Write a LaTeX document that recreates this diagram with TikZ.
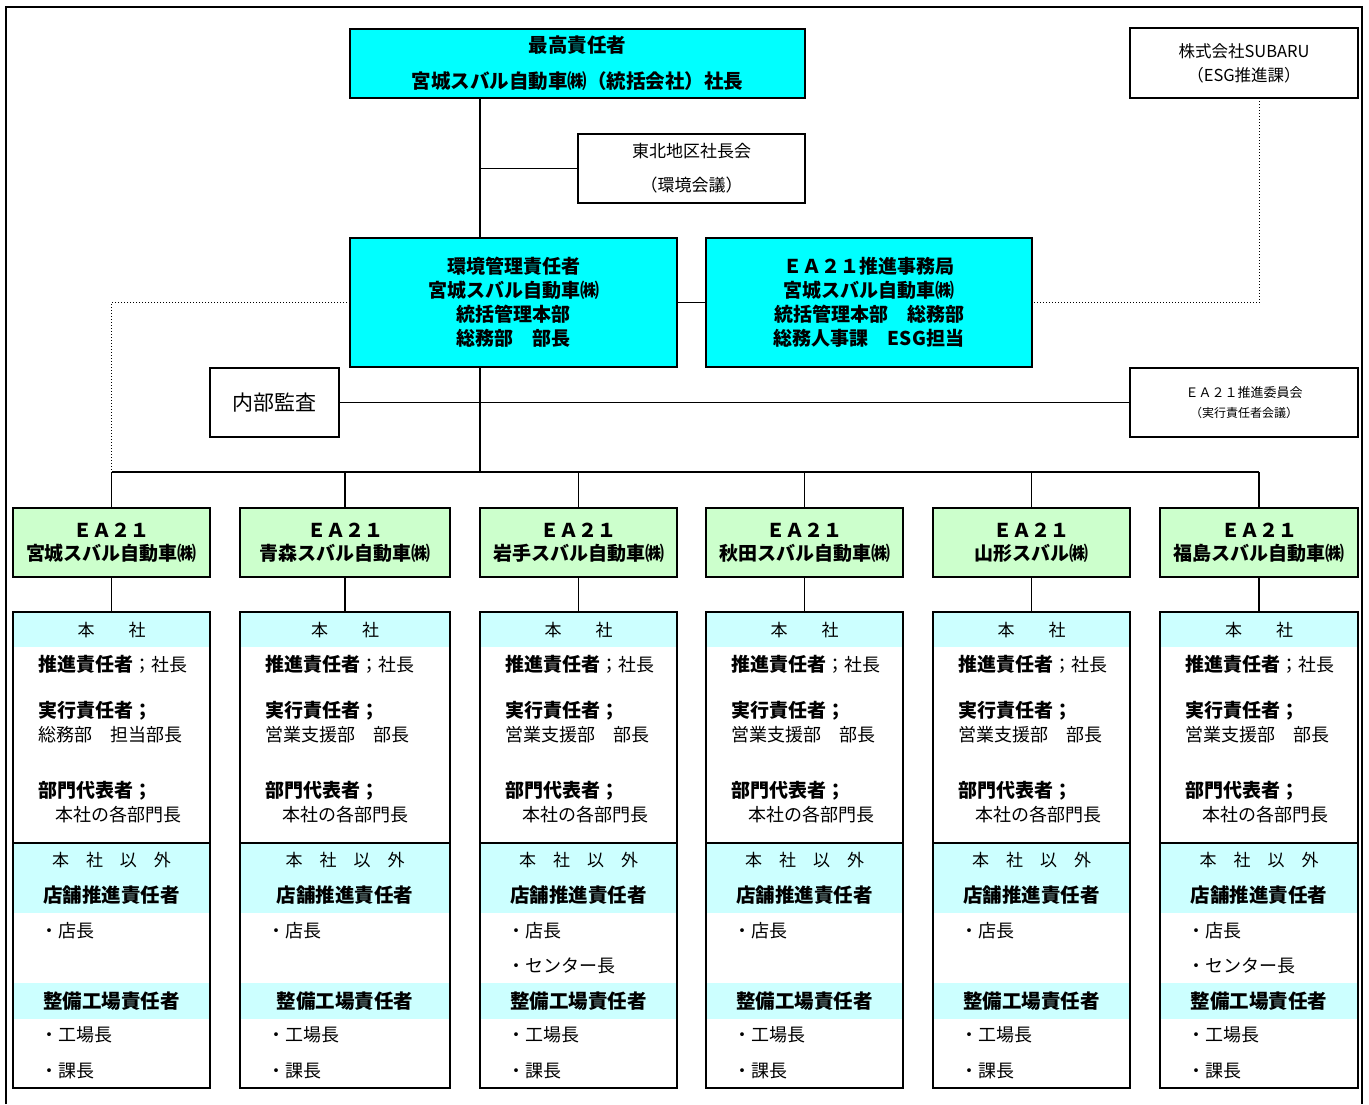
\documentclass[tikz,border=0pt]{standalone}
\usepackage{fontspec}
\setmainfont{Noto Sans CJK JP}
\definecolor{boxcyan}{HTML}{00FFFF}
\definecolor{boxgreen}{HTML}{CCFFCC}
\definecolor{bandcyan}{HTML}{CCFFFF}
\tikzset{
  box/.style={draw, line width=1.2pt, inner sep=0pt, outer sep=0pt, align=center},
  cyanbox/.style={box, fill=boxcyan},
  greenbox/.style={box, fill=boxgreen, minimum height=69pt, font=\bfseries\fontsize{19}{23}\selectfont},
  lowbox/.style={draw, line width=1.2pt, inner sep=0pt, outer sep=0pt, minimum height=476pt},
  band/.style={fill=bandcyan},
  txt/.style={inner sep=0pt, anchor=west, font=\fontsize{18}{20}\selectfont},
  txtb/.style={inner sep=0pt, anchor=west, font=\bfseries\fontsize{19}{20}\selectfont},
  ctrb/.style={inner sep=0pt, anchor=center, font=\bfseries\fontsize{19.5}{20}\selectfont},
  ctr/.style={inner sep=0pt, anchor=center, font=\fontsize{17}{20}\selectfont},
  link/.style={line width=1.2pt},
  trunkline/.style={line width=2pt},
  dotline/.style={line width=1pt, dotted}
}
\newcommand\eacol[6]{%
  \pgfmathsetmacro\colcx{(#1+#2)/2}%
  \pgfmathsetmacro\colw{#2-#1}%
  \node[greenbox, minimum width=\colw pt] (g#3) at (\colcx,542.5) {ＥＡ２１\\#4};
  \fill[band] (#1,612) rectangle (#2,647);
  \fill[band] (#1,843) rectangle (#2,913);
  \fill[band] (#1,983) rectangle (#2,1019);
  \draw[link] (#1,843) -- (#2,843);
  \node[lowbox, minimum width=\colw pt] (b#3) at (\colcx,850) {};
  \node[ctr] (h#3) at (\colcx,630) {本　　社};
  \node[txt] (p#3) at (#1+25,664) {{\bfseries\fontsize{19}{20}\selectfont 推進責任者}；社長};
  \node[txtb] (e#3) at (#1+25,711) {実行責任者；};
  \node[txt] (x#3) at (#1+25,735) {#5};
  \node[txtb] (r#3) at (#1+25,791) {部門代表者；};
  \node[txt] (s#3) at (#1+42,815) {本社の各部門長};
  \node[ctr] (o#3) at (\colcx,860) {本　社　以　外};
  \node[ctrb] (m#3) at (\colcx,895) {店舗推進責任者};
  \node[txt] (k#3) at (#1+27,931) {・店長};
  \ifnum#6=1 \node[txt] (c#3) at (#1+27,966) {・センター長};\fi
  \node[ctrb] (f#3) at (\colcx,1001) {整備工場責任者};
  \node[txt] (j#3) at (#1+27,1035) {・工場長};
  \node[txt] (q#3) at (#1+27,1071) {・課長};
  \draw[link] (g#3.south) -- (b#3.north);
  \draw[link] (g#3.north |- bus) -- (g#3.north);
}
\begin{document}
\begin{tikzpicture}[x=1pt,y=-1pt]
\useasboundingbox (0,0) rectangle (1369,1104);
\draw[line width=1.2pt] (6,1104) -- (6,7) -- (1362,7) -- (1362,1104);
\coordinate (trunk) at (480,0);
\coordinate (bus) at (0,472);

\node[cyanbox, minimum width=455pt, minimum height=69pt, font=\bfseries\fontsize{19.5}{36}\selectfont] (top) at (577.5,63.5)
  {最高責任者\\宮城スバル自動車㈱（統括会社）社長};
\node[box, minimum width=227pt, minimum height=69pt, font=\fontsize{17}{34}\selectfont] (tohoku) at (691.5,168.5)
  {東北地区社長会\\（環境会議）};
\node[box, minimum width=228pt, minimum height=70pt, font=\fontsize{16.5}{24}\selectfont] (subaru) at (1244,63)
  {株式会社SUBARU\\（ESG推進課）};
\node[cyanbox, minimum width=327pt, minimum height=129pt, font=\bfseries\fontsize{19}{24}\selectfont] (kan) at (513.5,302.5)
  {環境管理責任者\\宮城スバル自動車㈱\\統括管理本部\\総務部　部長};
\node[cyanbox, minimum width=326pt, minimum height=129pt, font=\bfseries\fontsize{19}{24}\selectfont] (jimu) at (869,302.5)
  {ＥＡ２１推進事務局\\宮城スバル自動車㈱\\統括管理本部　総務部\\総務人事課　ESG担当};
\node[box, minimum width=129pt, minimum height=69pt, font=\fontsize{21}{24}\selectfont] (naibu) at (274.5,402.5)
  {内部監査};
\node[box, minimum width=228pt, minimum height=69pt, font=\fontsize{13}{20}\selectfont] (iinkai) at (1244,402.5)
  {ＥＡ２１推進委員会\\{\fontsize{12}{20}\selectfont （実行責任者会議）}};

\draw[trunkline] (top.south -| trunk) -- (kan.north -| trunk);
\draw[trunkline] (kan.south -| trunk) -- (bus -| trunk);
\draw[link] (trunk |- tohoku.west) -- (tohoku.west);
\draw[link] (kan.east) -- (jimu.west);
\draw[link] (naibu.east) -- (iinkai.west);

\eacol{13}{210}{1}{宮城スバル自動車㈱}{総務部　担当部長}{0}
\eacol{240}{450}{2}{青森スバル自動車㈱}{営業支援部　部長}{0}
\eacol{480}{677}{3}{岩手スバル自動車㈱}{営業支援部　部長}{1}
\eacol{706}{903}{4}{秋田スバル自動車㈱}{営業支援部　部長}{0}
\eacol{933}{1130}{5}{山形スバル㈱}{営業支援部　部長}{0}
\eacol{1160}{1358}{6}{福島スバル自動車㈱}{営業支援部　部長}{1}

\draw[link, line width=1.5pt] (g1.north |- bus) -- (g6.north |- bus);
\draw[dotline] (kan.west) -| (g1.north |- bus);
\draw[dotline] (subaru.south -| g6.north) |- (jimu.east);
\end{tikzpicture}
\end{document}
